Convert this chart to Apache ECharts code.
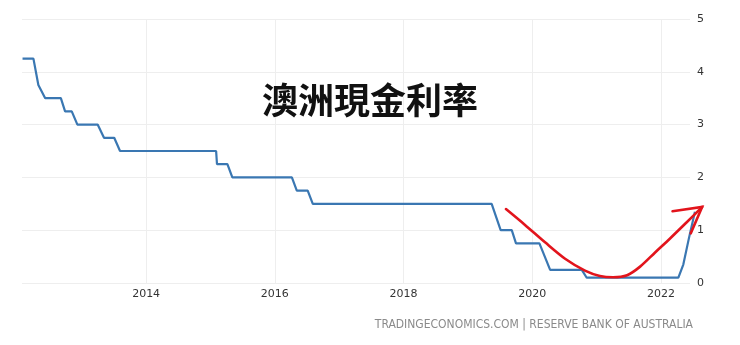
<!DOCTYPE html>
<html>
<head>
<meta charset="utf-8">
<script src="https://cdn.jsdelivr.net/npm/echarts@6/dist/echarts.min.js"></script>
<style>
html,body{margin:0;padding:0;background:#fff;}
#chart{width:740px;height:345px;}
</style>
</head>
<body>
<div id="chart"></div>
<script>
// Cash rate (%) — bend points of the plotted line
const rateDates = ['2012-01-30','2012-04-01','2012-04-29','2012-06-07','2012-09-04','2012-09-28','2012-11-05','2012-12-07','2013-04-01','2013-05-07','2013-07-04','2013-08-06','2015-02-02','2015-02-07','2015-04-07','2015-05-05','2016-04-07','2016-05-05','2016-07-06','2016-08-04','2019-05-16','2019-07-06','2019-09-07','2019-10-01','2020-02-11','2020-04-12','2020-10-09','2020-11-06','2022-04-10','2022-05-08','2022-06-09','2022-07-13'];
const rateValues = [4.25,4.25,3.75,3.5,3.5,3.25,3.25,3.0,3.0,2.75,2.75,2.5,2.5,2.25,2.25,2.0,2.0,1.75,1.75,1.5,1.5,1.0,1.0,0.75,0.75,0.25,0.25,0.1,0.1,0.35,0.85,1.35];

// Hand-drawn red arrow annotation (in data units)
const arrowCurveDates = ['2019-08-05','2019-11-21','2020-03-14','2020-07-06','2020-10-27','2021-01-20','2021-04-05','2021-06-23','2021-09-05','2021-11-29','2022-02-22','2022-05-23','2022-08-23'];
const arrowCurveValues = [1.40,1.10,0.77,0.46,0.235,0.133,0.108,0.146,0.31,0.578,0.843,1.136,1.44];
const arrowHeadDates = ['2022-03-08','2022-08-23','2022-06-19'];
const arrowHeadValues = [1.36,1.44,0.94];

const yearTicks = [2014, 2016, 2018, 2020, 2022];
const titleText = '澳洲現金利率';
const sourceText = 'TRADINGECONOMICS.COM | RESERVE BANK OF AUSTRALIA';

// date string -> fractional year
const fy = s => {
  const p = s.split('-').map(Number);
  const t = Date.UTC(p[0], p[1]-1, p[2]);
  const a = Date.UTC(p[0], 0, 1), b = Date.UTC(p[0] + 1, 0, 1);
  return p[0] + (t - a) / (b - a);
};
const zip = (d, v) => d.map((x, i) => [fy(x), v[i]]);

const W = 740, GL = 22, GR = 690, GR2 = 710;
const xMin = fy('2012-01-27'), xMax = fy('2022-06-15');
const xMax2 = xMin + (xMax - xMin) * (GR2 - GL) / (GR - GL);

const chart = echarts.init(document.getElementById('chart'), null, {renderer:'canvas'});
chart.setOption({
  animation: false,
  backgroundColor: '#ffffff',
  grid: [
    {left: GL, right: W - GR, top: 19, bottom: 62, containLabel: false},
    {left: GL, right: W - GR2, top: 19, bottom: 62, containLabel: false}
  ],
  title: {
    text: titleText, left: 'center', top: 77,
    textStyle: {fontFamily: '"Noto Sans CJK TC"', fontSize: 36, fontWeight: 'bold', color: '#111'}
  },
  xAxis: [{
    type: 'value', gridIndex: 0,
    min: xMin, max: xMax,
    axisLine: {show: false},
    axisTick: {show: false, customValues: yearTicks},
    axisLabel: {
      customValues: yearTicks,
      formatter: v => String(Math.round(v)),
      fontFamily: '"DejaVu Sans"', fontSize: 11, color: '#333', margin: 6
    },
    splitLine: {show: true, lineStyle: {color: '#eeeeee', width: 1}}
  }, {
    type: 'value', gridIndex: 1, min: xMin, max: xMax2, show: false,
    splitLine: {show: false}
  }],
  yAxis: [{
    type: 'value', gridIndex: 0, position: 'right', min: 0, max: 5, interval: 1,
    axisLine: {show: false}, axisTick: {show: false},
    axisLabel: {fontFamily: '"DejaVu Sans"', fontSize: 11, color: '#333', margin: 7},
    splitLine: {lineStyle: {color: '#eeeeee', width: 1}}
  }, {
    type: 'value', gridIndex: 1, min: 0, max: 5, show: false, splitLine: {show: false}
  }],
  graphic: [{
    type: 'text', right: 47, top: 319,
    style: {text: sourceText, fill: '#8a8a8a', font: '12px "DejaVu Sans Condensed"', textAlign: 'right'}
  }],
  series: [
    {
      type: 'line', xAxisIndex: 1, yAxisIndex: 1, data: zip(rateDates, rateValues), showSymbol: false, clip: false,
      lineStyle: {color: '#3a77b2', width: 2.2}, z: 2
    },
    {
      type: 'line', xAxisIndex: 1, yAxisIndex: 1, data: zip(arrowCurveDates, arrowCurveValues), showSymbol: false, clip: false, smooth: 0.3,
      lineStyle: {color: '#e2141c', width: 2.6, cap: 'round'}, z: 3
    },
    {
      type: 'line', xAxisIndex: 1, yAxisIndex: 1, data: zip(arrowHeadDates, arrowHeadValues), showSymbol: false, clip: false,
      lineStyle: {color: '#e2141c', width: 2.6, cap: 'round', join: 'miter'}, z: 3
    }
  ]
});
</script>
</body>
</html>
